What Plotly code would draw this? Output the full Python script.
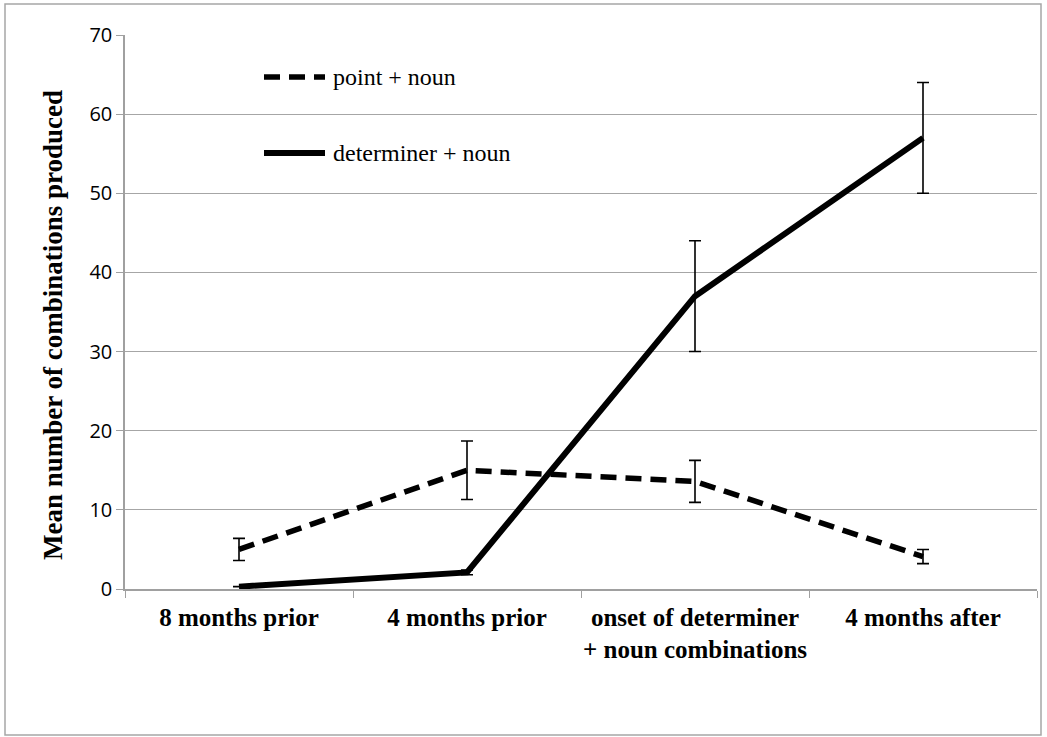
import plotly.graph_objects as go

categories = ["8 months prior", "4 months prior", "onset of determiner<br>+ noun combinations", "4 months after"]
point_noun = [5.0, 15.0, 13.6, 4.1]
point_noun_err = [1.4, 3.7, 2.65, 0.9]
det_noun = [0.3, 2.1, 37.0, 57.0]
det_noun_err = [0.0, 0.3, 7.0, 7.0]
y_ticks = [0, 10, 20, 30, 40, 50, 60, 70]

serif = "Liberation Serif, Times New Roman, serif"
sans = "Open Sans, Carlito, Calibri, sans-serif"

# plot area in pixels
L, R, T, B = 125, 1037, 35, 589
PW, PH = R - L, B - T


def px(x):
    return (x - L) / PW


def py(y):
    return (B - y) / PH


DASH = "16px,9px"

fig = go.Figure()
fig.add_trace(go.Scatter(
    x=categories, y=point_noun, mode="lines", name="point + noun",
    line=dict(color="black", width=5.5, dash=DASH),
    error_y=dict(type="data", array=point_noun_err, visible=True, color="black", thickness=1.6, width=6),
    showlegend=False))
fig.add_trace(go.Scatter(
    x=categories, y=det_noun, mode="lines", name="determiner + noun",
    line=dict(color="black", width=6),
    error_y=dict(type="data", array=det_noun_err, visible=True, color="black", thickness=1.6, width=6),
    showlegend=False))

# legend drawn as key lines + labels
fig.add_shape(type="line", xref="paper", yref="paper", x0=px(264), x1=px(325), y0=py(77), y1=py(77),
              line=dict(color="black", width=5.5, dash=DASH))
fig.add_shape(type="line", xref="paper", yref="paper", x0=px(264), x1=px(325), y0=py(153), y1=py(153),
              line=dict(color="black", width=6))
fig.add_annotation(xref="paper", yref="paper", x=px(331), y=py(77), text="point + noun", showarrow=False,
                   xanchor="left", yanchor="middle", font=dict(family=serif, size=24, color="black"))
fig.add_annotation(xref="paper", yref="paper", x=px(331), y=py(153), text="determiner + noun", showarrow=False,
                   xanchor="left", yanchor="middle", font=dict(family=serif, size=24, color="black"))

# y-axis title
fig.add_annotation(xref="paper", yref="paper", x=px(53), y=py(325), text="<b>Mean number of combinations produced</b>",
                   showarrow=False, textangle=-90, xanchor="center", yanchor="middle",
                   font=dict(family=serif, size=27, color="black"))

# outer chart border
fig.add_shape(type="rect", xref="paper", yref="paper",
              x0=px(5), x1=px(1041), y0=py(735), y1=py(4),
              line=dict(color="#a6a6a6", width=1.5), fillcolor="rgba(0,0,0,0)", layer="below")

fig.update_layout(
    width=1047, height=737,
    margin=dict(l=L, r=1047 - R, t=T, b=737 - B, autoexpand=False),
    paper_bgcolor="white", plot_bgcolor="white",
    xaxis=dict(
        type="category", range=[-0.5, 3.5], tickson="boundaries", ticks="outside", ticklen=7,
        tickcolor="#a0a0a0", showline=True, linecolor="#a0a0a0", linewidth=1.5, showgrid=False,
        ticklabelstandoff=5, tickangle=0,
        tickfont=dict(family=serif, size=25, color="black", weight="bold"), zeroline=False),
    yaxis=dict(
        range=[0, 70], tickvals=y_ticks, ticks="outside", ticklen=7, tickcolor="#a0a0a0",
        showline=True, linecolor="#a0a0a0", linewidth=1.5, showgrid=True, gridcolor="#a6a6a6",
        gridwidth=1.3, zeroline=False,
        tickfont=dict(family=sans, size=20, color="black")),
)

fig.write_html("out.html", config={"displayModeBar": False},
               post_script="document.body.style.margin='0';")
